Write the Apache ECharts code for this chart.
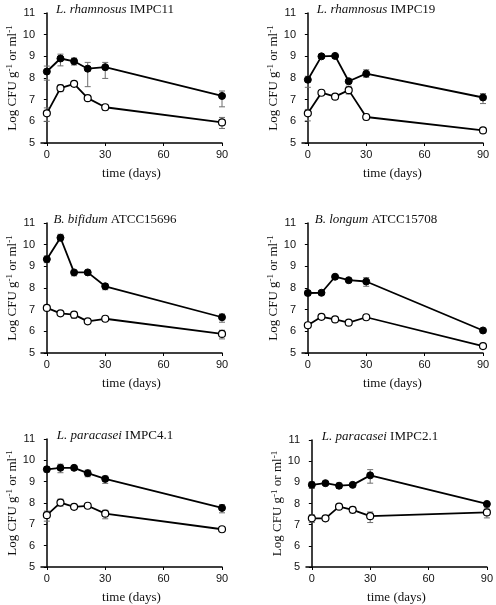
<!DOCTYPE html>
<html>
<head>
<meta charset="utf-8">
<script src="https://cdn.jsdelivr.net/npm/echarts@6/dist/echarts.min.js"></script>
<style>html,body{margin:0;padding:0;background:#fff;}#c{width:496px;height:605px;}</style>
</head>
<body>
<div id="c"></div>
<script>
const days = [0, 7, 14, 21, 30, 90];
const xTicks = [0, 30, 60, 90];
const genus = ['L. rhamnosus', 'L. rhamnosus', 'B. bifidum', 'B. longum', 'L. paracasei', 'L. paracasei'];
const strain = ['IMPC11', 'IMPC19', 'ATCC15696', 'ATCC15708', 'IMPC4.1', 'IMPC2.1'];

// Panel 1
const p1Solid = [8.3, 8.9, 8.77, 8.43, 8.5, 7.17];
const p1SolidLow = [7.9, 8.56, 8.6, 7.6, 7.98, 6.67];
const p1SolidHigh = [8.55, 9.1, 8.92, 8.72, 8.72, 7.4];
const p1Open = [6.37, 7.53, 7.73, 7.07, 6.65, 5.95];
const p1OpenLow = [6.0, 7.37, 7.63, 7.0, 6.52, 5.67];
const p1OpenHigh = [6.62, 7.68, 7.82, 7.15, 6.77, 6.18];
// Panel 2
const p2Solid = [7.92, 9.0, 9.02, 7.85, 8.2, 7.1];
const p2SolidLow = [7.57, 9.0, 9.0, 7.8, 8.03, 6.82];
const p2SolidHigh = [8.08, 9.05, 9.06, 7.92, 8.38, 7.28];
const p2Open = [6.37, 7.32, 7.14, 7.44, 6.2, 5.58];
const p2OpenLow = [6.02, 7.32, 7.14, 7.26, 6.07, 5.58];
const p2OpenHigh = [6.55, 7.34, 7.16, 7.62, 6.33, 5.6];
// Panel 3
const p3Solid = [9.33, 10.32, 8.72, 8.72, 8.08, 6.65];
const p3SolidLow = [9.17, 10.18, 8.56, 8.72, 7.92, 6.42];
const p3SolidHigh = [9.48, 10.48, 8.8, 8.72, 8.2, 6.8];
const p3Open = [7.08, 6.83, 6.77, 6.46, 6.58, 5.88];
const p3OpenLow = [7.08, 6.83, 6.6, 6.46, 6.58, 5.65];
const p3OpenHigh = [7.08, 6.83, 6.85, 6.46, 6.58, 6.05];
// Panel 4
const p4Solid = [7.77, 7.78, 8.52, 8.36, 8.3, 6.04];
const p4SolidLow = [7.65, 7.72, 8.48, 8.3, 8.08, 6.04];
const p4SolidHigh = [7.88, 7.85, 8.58, 8.4, 8.48, 6.04];
const p4Open = [6.28, 6.67, 6.55, 6.4, 6.65, 5.32];
const p4OpenLow = [6.2, 6.62, 6.5, 6.38, 6.62, 5.28];
const p4OpenHigh = [6.36, 6.72, 6.6, 6.42, 6.68, 5.36];
// Panel 5
const p5Solid = [9.58, 9.65, 9.65, 9.4, 9.13, 7.77];
const p5SolidLow = [9.45, 9.42, 9.58, 9.23, 8.92, 7.54];
const p5SolidHigh = [9.7, 9.82, 9.72, 9.54, 9.26, 7.92];
const p5Open = [7.43, 8.02, 7.82, 7.87, 7.5, 6.77];
const p5OpenLow = [7.15, 7.85, 7.8, 7.85, 7.26, 6.74];
const p5OpenHigh = [7.62, 8.18, 7.85, 7.9, 7.66, 6.8];
// Panel 6
const p6Solid = [8.88, 8.96, 8.84, 8.88, 9.33, 7.98];
const p6SolidLow = [8.71, 8.93, 8.71, 8.85, 8.96, 7.95];
const p6SolidHigh = [9.02, 9.0, 8.96, 8.92, 9.6, 8.02];
const p6Open = [7.3, 7.3, 7.85, 7.7, 7.4, 7.58];
const p6OpenLow = [7.1, 7.28, 7.83, 7.55, 7.1, 7.32];
const p6OpenHigh = [7.47, 7.33, 7.88, 7.83, 7.6, 7.79];

const panels = [
  [p1Solid, p1SolidLow, p1SolidHigh, p1Open, p1OpenLow, p1OpenHigh],
  [p2Solid, p2SolidLow, p2SolidHigh, p2Open, p2OpenLow, p2OpenHigh],
  [p3Solid, p3SolidLow, p3SolidHigh, p3Open, p3OpenLow, p3OpenHigh],
  [p4Solid, p4SolidLow, p4SolidHigh, p4Open, p4OpenLow, p4OpenHigh],
  [p5Solid, p5SolidLow, p5SolidHigh, p5Open, p5OpenLow, p5OpenHigh],
  [p6Solid, p6SolidLow, p6SolidHigh, p6Open, p6OpenLow, p6OpenHigh]
];

const gridPos = [
  {left: 41, top: 13, width: 181, height: 130},
  {left: 302, top: 13, width: 181, height: 130},
  {left: 41, top: 223, width: 181, height: 130},
  {left: 302, top: 223, width: 181, height: 130},
  {left: 41, top: 439, width: 181, height: 129},
  {left: 306, top: 440, width: 181, height: 129}
];

const SANS = '"Liberation Sans", Arial, sans-serif';
const SERIF = '"Liberation Serif", "Times New Roman", serif';

const grids = [], xAxes = [], yAxes = [], series = [], graphics = [];

function errRender(params, api) {
  const x = api.value(0);
  const lo = api.coord([x, api.value(1)]);
  const hi = api.coord([x, api.value(2)]);
  const w = 3;
  const st = {stroke: '#6e6e6e', lineWidth: 1};
  return {
    type: 'group',
    children: [
      {type: 'line', shape: {x1: lo[0], y1: lo[1], x2: hi[0], y2: hi[1]}, style: st},
      {type: 'line', shape: {x1: lo[0] - w, y1: lo[1], x2: lo[0] + w, y2: lo[1]}, style: st},
      {type: 'line', shape: {x1: hi[0] - w, y1: hi[1], x2: hi[0] + w, y2: hi[1]}, style: st}
    ]
  };
}

panels.forEach((p, i) => {
  const g = gridPos[i];
  grids.push(Object.assign({containLabel: false}, g));
  xAxes.push({
    type: 'value', gridIndex: i, min: -3, max: 90,
    name: 'time (days)', nameLocation: 'middle', nameGap: 24,
    nameTextStyle: {fontFamily: SERIF, fontSize: 13, color: '#111'},
    axisLine: {lineStyle: {color: '#000', width: 1.5}},
    axisTick: {show: true, customValues: xTicks, length: 3, inside: false, lineStyle: {color: '#000'}},
    axisLabel: {customValues: xTicks, fontFamily: SANS, fontSize: 11, color: '#111', margin: 6},
    splitLine: {show: false}
  });
  yAxes.push({
    type: 'value', gridIndex: i, min: 5, max: 11, interval: 1,
    name: 'Log CFU g{s|-1} or ml{s|-1}', nameLocation: 'middle', nameGap: 20,
    nameTextStyle: {fontFamily: SERIF, fontSize: 13, color: '#111',
      rich: {s: {fontFamily: SERIF, fontSize: 9, color: '#111', verticalAlign: 'top', padding: [0, 0, 6, 0]}}},
    axisLine: {show: true, lineStyle: {color: '#000', width: 1.5}},
    axisTick: {show: true, length: 3, lineStyle: {color: '#000'}},
    axisLabel: {fontFamily: SANS, fontSize: 11, color: '#111', margin: 6},
    splitLine: {show: false}
  });
  const [sv, sl, sh, ov, ol, oh] = p;
  series.push({
    type: 'custom', xAxisIndex: i, yAxisIndex: i, renderItem: errRender, z: 1,
    encode: {x: 0, y: [1, 2]},
    data: days.map((d, k) => [d, sl[k], sh[k]])
  });
  series.push({
    type: 'custom', xAxisIndex: i, yAxisIndex: i, renderItem: errRender, z: 1,
    encode: {x: 0, y: [1, 2]},
    data: days.map((d, k) => [d, ol[k], oh[k]])
  });
  series.push({
    type: 'line', xAxisIndex: i, yAxisIndex: i, z: 3,
    data: days.map((d, k) => [d, sv[k]]),
    symbol: 'circle', symbolSize: 7,
    lineStyle: {color: '#000', width: 1.8},
    itemStyle: {color: '#000', borderColor: '#000', borderWidth: 1},
    animation: false
  });
  series.push({
    type: 'line', xAxisIndex: i, yAxisIndex: i, z: 3,
    data: days.map((d, k) => [d, ov[k]]),
    symbol: 'circle', symbolSize: 7,
    lineStyle: {color: '#000', width: 1.8},
    itemStyle: {color: '#fff', borderColor: '#000', borderWidth: 1.2},
    animation: false
  });
  graphics.push({
    type: 'text',
    x: g.left + 74, y: g.top - 3,
    style: {
      text: '{i|' + genus[i] + '} ' + strain[i],
      font: '13px ' + SERIF,
      fill: '#111',
      align: 'center', verticalAlign: 'middle',
      rich: {i: {fontFamily: SERIF, fontStyle: 'italic', fontSize: 13, fill: '#111', color: '#111'}}
    }
  });
});

const chart = echarts.init(document.getElementById('c'), null, {renderer: 'canvas'});
chart.setOption({
  animation: false,
  backgroundColor: '#fff',
  grid: grids,
  xAxis: xAxes,
  yAxis: yAxes,
  series: series,
  graphic: graphics
});
</script>
</body>
</html>
